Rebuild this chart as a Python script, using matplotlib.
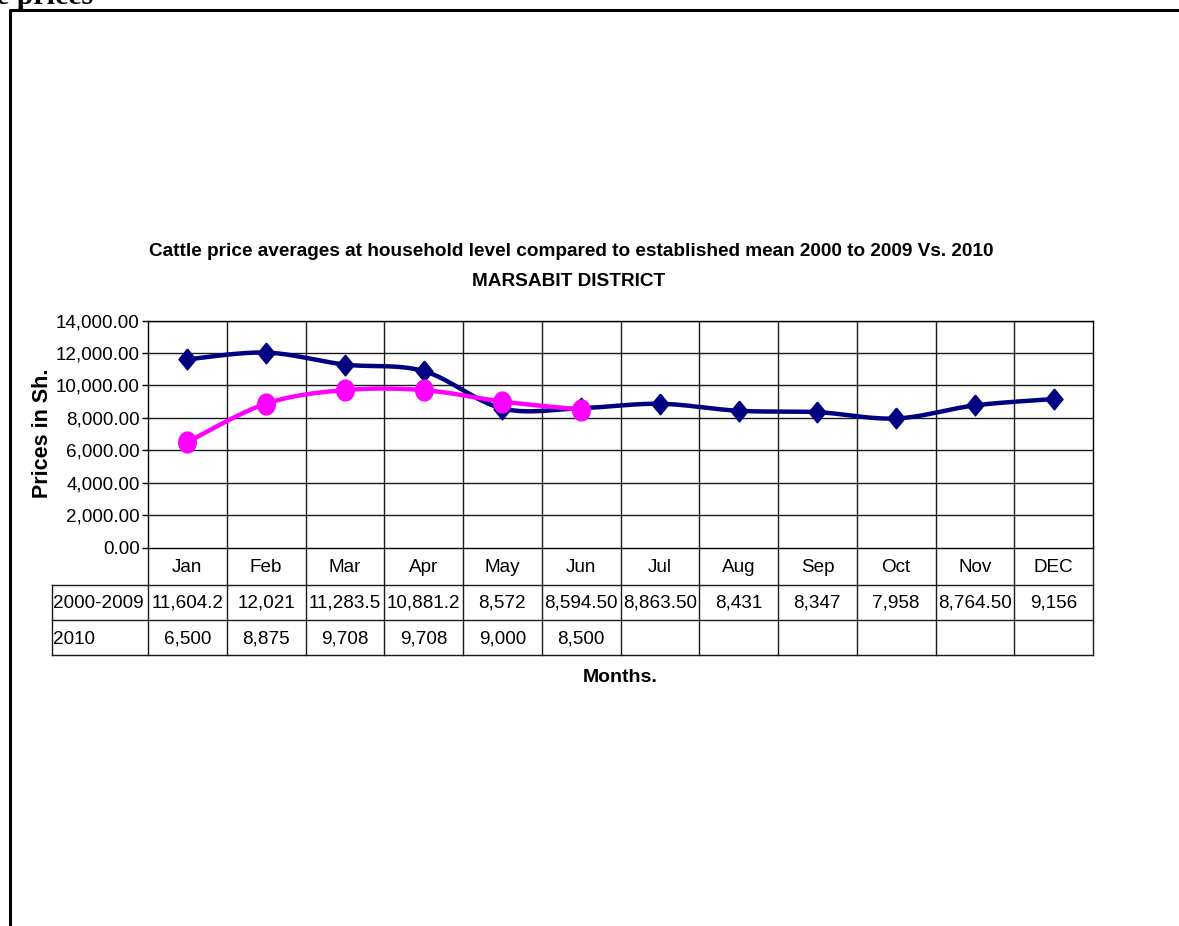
import matplotlib.pyplot as plt
import matplotlib.transforms as mtransforms
import numpy as np

plt.rcParams['font.family'] = ['Liberation Sans', 'DejaVu Sans']

# data
months = ['Jan', 'Feb', 'Mar', 'Apr', 'May', 'Jun',
          'Jul', 'Aug', 'Sep', 'Oct', 'Nov', 'DEC']
mean_2000_2009 = [11604.2, 12021, 11283.5, 10881.2, 8572, 8594.5,
                  8863.5, 8431, 8347, 7958, 8764.5, 9156]
prices_2010 = [6500, 8875, 9708, 9708, 9000, 8500]
series_names = ['2000-2009', '2010']
# table text as printed in the data table
mean_labels = ['11,604.2', '12,021', '11,283.5', '10,881.2', '8,572', '8,594.50',
               '8,863.50', '8,431', '8,347', '7,958', '8,764.50', '9,156']
labels_2010 = ['6,500', '8,875', '9,708', '9,708', '9,000', '8,500']
y_ticks = [0, 2000, 4000, 6000, 8000, 10000, 12000, 14000]

W, H = 1179, 926
FS = 13.6


def smooth(ys, n=30):
    """Catmull-Rom like bezier smoothing (close to the excel smoothed line)"""
    ys = np.asarray(ys, float)
    xs = np.arange(len(ys), dtype=float)
    px = np.concatenate([[xs[0]], xs, [xs[-1]]])
    py = np.concatenate([[ys[0]], ys, [ys[-1]]])
    t = np.linspace(0, 1, n)
    out_x, out_y = [], []
    for i in range(len(xs) - 1):
        x0, x1, x2, x3 = px[i:i + 4]
        y0, y1, y2, y3 = py[i:i + 4]
        cx1, cy1 = x1 + (x2 - x0) / 6, y1 + (y2 - y0) / 6
        cx2, cy2 = x2 - (x3 - x1) / 6, y2 - (y3 - y1) / 6
        bx = (1 - t) ** 3 * x1 + 3 * (1 - t) ** 2 * t * cx1 + 3 * (1 - t) * t ** 2 * cx2 + t ** 3 * x2
        by = (1 - t) ** 3 * y1 + 3 * (1 - t) ** 2 * t * cy1 + 3 * (1 - t) * t ** 2 * cy2 + t ** 3 * y2
        out_x.extend(bx)
        out_y.extend(by)
    return out_x, out_y


fig = plt.figure(figsize=(W / 100, H / 100), dpi=100)

# overlay in pixel coordinates for frame, table and labels
ov = fig.add_axes([0, 0, 1, 1])
ov.set_xlim(0, W)
ov.set_ylim(H, 0)
ov.axis('off')

left, right, top, bottom = 148, 1093, 320.5, 547.5
ax = fig.add_axes([left / W, (H - bottom) / H, (right - left) / W, (bottom - top) / H])
ax.set_xlim(-0.5, len(months) - 0.5)
ax.set_ylim(0, 14000)
ax.set_yticks(y_ticks)
ax.set_yticklabels([f'{v:,.2f}' for v in y_ticks], fontsize=FS)
ax.tick_params(axis='y', length=4, width=1, pad=2)
ax.set_xticks([])
for v in y_ticks[1:]:
    ax.axhline(v, color='#1a1a1a', lw=1, zorder=1)
for k in range(1, len(months)):
    ax.axvline(k - 0.5, color='#1a1a1a', lw=1, zorder=1)
for s in ax.spines.values():
    s.set_color('black')
    s.set_linewidth(1)

navy, magenta = '#000080', '#FF00FF'
diamond = [(0, 1), (0.82, 0), (0, -1), (-0.82, 0), (0, 1)]
ellipse = [(0.84 * np.cos(a), np.sin(a)) for a in np.linspace(0, 2 * np.pi, 40)]

sx, sy = smooth(mean_2000_2009)
ax.plot(sx, sy, color=navy, lw=3.2, zorder=3, solid_capstyle='round')
ax.plot(range(len(mean_2000_2009)), mean_2000_2009, ls='none', marker=diamond,
        markersize=15, color=navy, zorder=4)
sx, sy = smooth(prices_2010)
ax.plot(sx, sy, color=magenta, lw=3.2, zorder=5, solid_capstyle='round')
ax.plot(range(len(prices_2010)), prices_2010, ls='none', marker=ellipse,
        markersize=15, color=magenta, zorder=6)

# data table below the plot
trans = mtransforms.blended_transform_factory(ax.transData, ov.transData)
row_y = [548, 585, 620, 655]
for k in range(len(months) + 1):
    ov.plot([k - 0.5, k - 0.5], [row_y[0], row_y[-1]], color='#1a1a1a', lw=1,
            transform=trans, clip_on=False)
for yy in row_y[1:]:
    ov.plot([52, right], [yy, yy], color='#1a1a1a', lw=1)
ov.plot([52, 52], [row_y[1], row_y[-1]], color='#1a1a1a', lw=1)

for k, m in enumerate(months):
    ov.text(k, (row_y[0] + row_y[1]) / 2 + 1, m, transform=trans, ha='center', va='center', fontsize=FS)
for k, lab in enumerate(mean_labels):
    ov.text(k, (row_y[1] + row_y[2]) / 2 + 1, lab, transform=trans, ha='center', va='center', fontsize=FS)
for k, lab in enumerate(labels_2010):
    ov.text(k, (row_y[2] + row_y[3]) / 2 + 2, lab, transform=trans, ha='center', va='center', fontsize=FS)
ov.text(53, (row_y[1] + row_y[2]) / 2 + 1, series_names[0], ha='left', va='center', fontsize=FS)
ov.text(53, (row_y[2] + row_y[3]) / 2 + 2, series_names[1], ha='left', va='center', fontsize=FS)

# titles and axis labels
ov.text(571, 251,
        'Cattle price averages at household level compared to established mean 2000 to 2009 Vs. 2010',
        ha='center', va='center', fontsize=13.7, fontweight='bold')
ov.text(569, 282, 'MARSABIT DISTRICT', ha='center', va='center',
        fontsize=13.7, fontweight='bold')
ov.text(620, 678, 'Months.', ha='center', va='center', fontsize=14, fontweight='bold')
ov.text(42, 433, 'Prices in Sh.', rotation=90, ha='center', va='center',
        fontsize=15.5, fontweight='bold')

# page frame and the cut heading above it
ov.plot([10, 10, W + 5], [H + 5, 10, 10], color='black', lw=2.2, clip_on=False)
ov.text(-4, 4, 'e prices', ha='left', va='baseline', fontsize=21.5, fontweight='bold',
        family=['Liberation Serif', 'DejaVu Serif'])

fig.savefig('out.png', dpi=100)
